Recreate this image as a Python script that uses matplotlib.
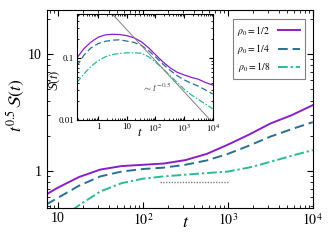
import numpy as np
import matplotlib
matplotlib.use('Agg')
import matplotlib.pyplot as plt

plt.rcParams['font.family'] = 'serif'
plt.rcParams['font.serif'] = ['Liberation Serif', 'DejaVu Serif']
plt.rcParams['mathtext.fontset'] = 'stix'

# survival probability S(t) (log10 t grid)
log_t = [-0.74, -0.5, -0.25, 0.0, 0.25, 0.5, 0.75, 1.0, 1.25, 1.5, 1.75,
         2.0, 2.25, 2.5, 2.75, 3.0, 3.25, 3.5, 3.75, 4.0]
S_half = [0.100, 0.140, 0.180, 0.215, 0.235, 0.240, 0.238, 0.228, 0.211, 0.183, 0.147,
          0.113, 0.087, 0.0697, 0.059, 0.0531, 0.0486, 0.0453, 0.040, 0.0366]
S_quarter = [0.074, 0.110, 0.145, 0.170, 0.185, 0.193, 0.196, 0.1866, 0.1779, 0.160, 0.132,
             0.104, 0.0802, 0.0636, 0.0519, 0.0443, 0.0391, 0.0350, 0.0304, 0.0262]
S_eighth = [0.040, 0.055, 0.073, 0.090, 0.104, 0.113, 0.118, 0.121, 0.121, 0.119, 0.105,
            0.086, 0.0675, 0.0523, 0.0405, 0.0313, 0.0254, 0.0213, 0.018, 0.0151]
labels = [r'$\rho_0 = 1/2$', r'$\rho_0 = 1/4$', r'$\rho_0 = 1/8$']
colors = ['#8a1fc8', '#2a6f90', '#2cbb94']
styles = ['-', (0, (5, 2.5)), (0, (5, 1.5, 1.2, 1.5))]

guide_t = [1.0, 1e4]
guide_s = [0.9, 0.009]
plateau_t = [160, 1000]
plateau_y = [0.8, 0.8]

t = 10 ** np.array(log_t)
series = [np.array(S_half), np.array(S_quarter), np.array(S_eighth)]

fig = plt.figure(figsize=(3.3, 2.41), dpi=100)
ax = fig.add_axes([0.142, 0.137, 0.806, 0.8215])
for s, lab, c, ls in zip(series, labels, colors, styles):
    ax.plot(t, np.sqrt(t) * s, color=c, ls=ls, lw=1.4, label=lab)
ax.plot(plateau_t, plateau_y, color='gray', ls=(0, (1, 1)), lw=1)
ax.set_xscale('log')
ax.set_yscale('log')
ax.set_xlim(10 ** 0.87, 1e4)
ax.set_ylim(0.483, 23.8)
ax.set_xticks([10, 100, 1000, 10000])
ax.set_xticklabels(['10', r'$10^2$', r'$10^3$', r'$10^4$'])
ax.set_yticks([1, 10])
ax.set_yticklabels(['1', '10'])
ax.tick_params(which='both', direction='in', top=True, right=True, labelsize=10)
ax.tick_params(axis='x', pad=3)
ax.tick_params(which='major', length=4)
ax.tick_params(which='minor', length=2)
ax.set_xlabel(r'$t$', fontsize=13)
ax.xaxis.set_label_coords(0.52, -0.03)
ax.set_ylabel(r'$t^{0.5}\,\mathcal{S}(t)$', fontsize=12.5)
ax.yaxis.set_label_coords(-0.075, 0.52)
leg = ax.legend(loc='upper right', bbox_to_anchor=(0.99, 0.98), markerfirst=False,
                fontsize=7, fancybox=False, edgecolor='gray', framealpha=1,
                handlelength=2.3, borderpad=0.5, labelspacing=0.45)
leg.get_frame().set_linewidth(0.8)

ins = fig.add_axes([0.233, 0.502, 0.412, 0.44])
for s, c, ls in zip(series, colors, styles):
    ins.plot(t, s, color=c, ls=ls, lw=0.9)
ins.plot(guide_t, guide_s, color='gray', lw=0.7)
ins.set_xscale('log')
ins.set_yscale('log')
ins.set_xlim(10 ** -0.74, 1e4)
ins.set_ylim(0.01, 0.51)
ins.set_xticks([1, 10, 100, 1000, 10000])
ins.set_xticklabels(['1', '10', r'$10^2$', r'$10^3$', r'$10^4$'])
ins.set_yticks([0.01, 0.1])
ins.set_yticklabels(['0.01', '0.1'])
ins.tick_params(which='both', direction='in', top=True, right=True, labelsize=6.5, pad=2)
ins.tick_params(which='major', length=3)
ins.tick_params(which='minor', length=1.5)
ins.set_xlabel(r'$t$', fontsize=9)
ins.xaxis.set_label_coords(0.46, -0.07)
ins.set_ylabel(r'$\mathcal{S}(t)$', fontsize=9)
ins.yaxis.set_label_coords(-0.11, 0.37)
ins.text(35, 0.034, r'$\sim t^{-0.5}$', fontsize=7.5, color='#555555', va='center')

fig.savefig('out.png', dpi=100)
